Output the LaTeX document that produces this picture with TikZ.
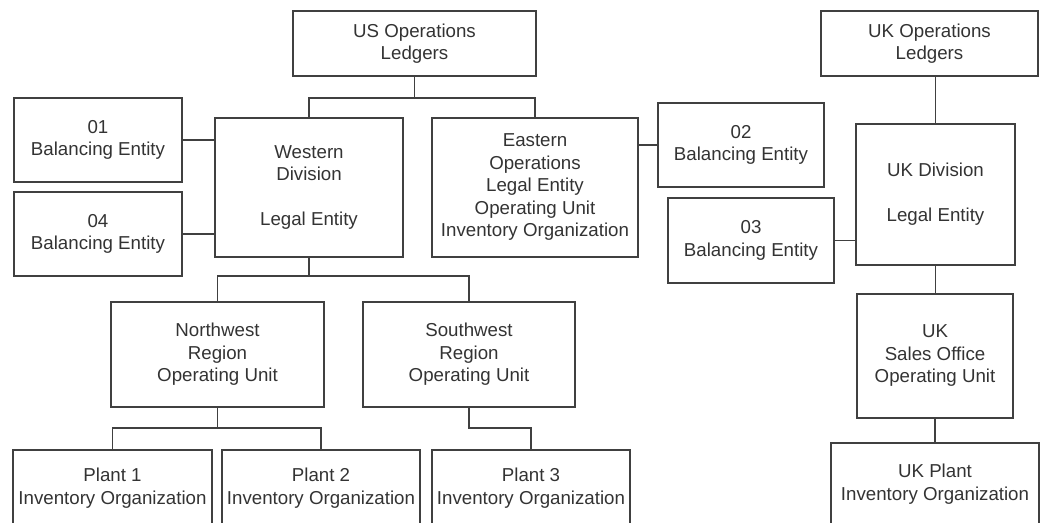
\documentclass[tikz,border=0pt]{standalone}
\usepackage{fontspec}
\setmainfont{Liberation Sans}
\begin{document}
\begin{tikzpicture}[x=1pt,y=-1pt,
  unit/.style={draw=black!75,line width=1.4pt,inner sep=0pt,align=center,
    text=black!80,font=\fontsize{18.7}{22.5}\selectfont},
  link/.style={draw=black!75,line width=1.4pt}]
\clip (0,0) rectangle (1049,522);
\node[unit,minimum width=243,minimum height=65] (usl) at (414.5,43.5) {US Operations\\Ledgers};
\node[unit,minimum width=188,minimum height=139] (wd) at (309,187.5) {Western\\Division\\ \\Legal Entity};
\node[unit,minimum width=168,minimum height=84] (b01) at (98,140) {01\\Balancing Entity};
\node[unit,minimum width=168,minimum height=84] (b04) at (98,234) {04\\Balancing Entity};
\node[unit,minimum width=206,minimum height=139] (eo) at (535,187.5) {Eastern\\Operations\\Legal Entity\\Operating Unit\\Inventory Organization};
\node[unit,minimum width=166,minimum height=84] (b02) at (741,145) {02\\Balancing Entity};
\node[unit,minimum width=217,minimum height=65] (ukl) at (929.5,43.5) {UK Operations\\Ledgers};
\node[unit,minimum width=159,minimum height=141] (ukd) at (935.5,194.5) {UK Division\\ \\Legal Entity};
\node[unit,minimum width=166,minimum height=85] (b03) at (751,240.5) {03\\Balancing Entity};
\node[unit,minimum width=156,minimum height=124] (uks) at (935,356) {UK\\Sales Office\\Operating Unit};
\node[unit,minimum width=208,minimum height=82] (ukp) at (935,484) {UK Plant\\Inventory Organization};
\node[unit,minimum width=213,minimum height=105] (nw) at (217.5,354.5) {Northwest\\Region\\Operating Unit};
\node[unit,minimum width=212,minimum height=105] (sw) at (469,354.5) {Southwest\\Region\\Operating Unit};
\node[unit,minimum width=199,minimum height=76] (p1) at (112.5,488) {Plant 1\\Inventory Organization};
\node[unit,minimum width=198,minimum height=76] (p2) at (321,488) {Plant 2\\Inventory Organization};
\node[unit,minimum width=198,minimum height=76] (p3) at (531,488) {Plant 3\\Inventory Organization};
% branch points
\coordinate (usbar) at (414.5,98);
\coordinate (wbar) at (309,276);
\coordinate (nbar) at (217.5,428);
\coordinate (sbar) at (531,428);
% US tree
\draw[link] (usl.south) -- (usbar);
\draw[link] (wd.north) |- (usbar) -| (eo.north);
\draw[link] (b01.east) -- (b01.east -| wd.west);
\draw[link] (b04.east) -- (b04.east -| wd.west);
\draw[link] (b02.west -| eo.east) -- (b02.west);
\draw[link] (wd.south) -- (wbar);
\draw[link] (nw.north) |- (wbar) -| (sw.north);
\draw[link] (nw.south) -- (nbar);
\draw[link] (p1.north) |- (nbar) -| (p2.north);
\draw[link] (sw.south) |- (sbar) -- (p3.north);
% UK tree
\draw[link] (ukd.north) -- (ukd.north |- ukl.south);
\draw[link] (b03.east) -- (b03.east -| ukd.west);
\draw[link] (ukd.south) -- (ukd.south |- uks.north);
\draw[link] (uks.south) -- (uks.south |- ukp.north);
\end{tikzpicture}
\end{document}
